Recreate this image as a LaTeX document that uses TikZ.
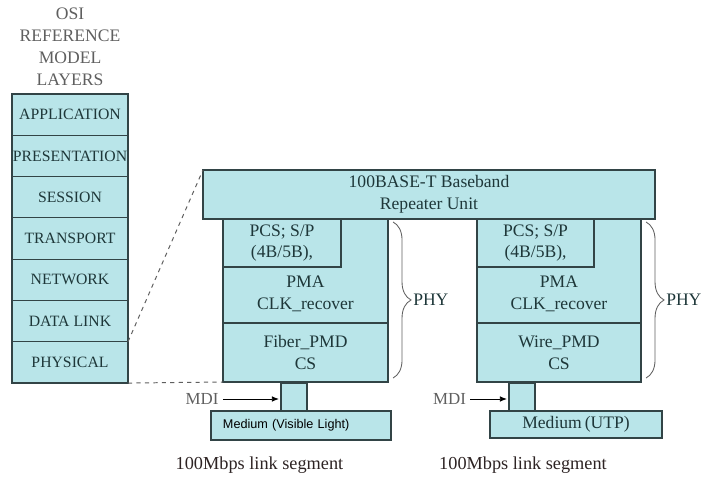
\documentclass[tikz,border=0pt]{standalone}
\usepackage{fontspec}
\setmainfont{Liberation Serif}
\setsansfont{Liberation Sans}
\usetikzlibrary{positioning, arrows.meta, decorations.pathreplacing}
\definecolor{boxfill}{RGB}{185,229,233}
\definecolor{boxline}{RGB}{50,68,70}
\definecolor{boxtext}{RGB}{30,55,57}
\definecolor{titlegray}{RGB}{95,95,95}
\definecolor{segtext}{RGB}{45,35,35}

\tikzset{
  box/.style={shape=rectangle, draw=boxline, fill=boxfill, line width=0.9pt, inner sep=0pt, outer sep=0pt, text=boxtext, align=center, font=\fontsize{12.5}{15.5}\selectfont},
  layer/.style={box, minimum width=2.9cm, minimum height=1.0325cm, font=\fontsize{11.2}{13}\selectfont},
  boxlabel/.style={text=boxtext, align=center, inner sep=0pt, font=\fontsize{12.5}{15.5}\selectfont},
  plainlabel/.style={text=segtext, inner sep=1pt, font=\fontsize{12}{14}\selectfont},
  mdiarrow/.style={-{Latex[length=5pt, width=4pt]}, line width=0.6pt, shorten >=1.5pt},
  zoomline/.style={dashed, draw=titlegray, line width=0.7pt},
  phybrace/.style={decorate, decoration={brace, amplitude=0.45cm}, draw=titlegray, line width=0.6pt}
}

\begin{document}
\begin{tikzpicture}[x=0.025cm, y=-0.025cm]
	\useasboundingbox (0,0) rectangle (715,477);
	% OSI stack on the left
	\node[align=center, text=titlegray, font=\fontsize{12.5}{15.6}\selectfont] (osititle) at (70,47) {OSI\\REFERENCE\\MODEL\\LAYERS};
	\node[layer] (app) at (70,114.6) {APPLICATION};
	\node[layer] (pres) at (70,155.9) {PRESENTATION};
	\node[layer] (sess) at (70,197.2) {SESSION};
	\node[layer] (trans) at (70,238.5) {TRANSPORT};
	\node[layer] (net) at (70,279.8) {NETWORK};
	\node[layer] (dlink) at (70,321.1) {DATA LINK};
	\node[layer] (phys) at (70,362.4) {PHYSICAL};

	% Repeater unit
	\node[box, minimum width=11.3cm, minimum height=1.225cm] (rep) at (429,194.5) {100BASE-T Baseband\\Repeater Unit};

	% left PHY
	\node[box, minimum width=4.125cm, minimum height=2.6cm] (lupper) at (305.5,271) {};
	\node[box, minimum width=2.95cm, minimum height=1.2cm] (lpcs) at (282,243) {PCS; S/P\\(4B/5B),};
	\node[boxlabel] (lpma) at (305.5,294) {PMA\\CLK\_recover};
	\node[box, minimum width=4.125cm, minimum height=1.475cm] (lfiber) at (305.5,352.5) {Fiber\_PMD\\CS};

	% right PHY
	\node[box, minimum width=4.1cm, minimum height=2.6cm] (rupper) at (559,271) {};
	\node[box, minimum width=2.925cm, minimum height=1.2cm] (rpcs) at (535.5,243) {PCS; S/P\\(4B/5B),};
	\node[boxlabel] (rpma) at (559,294) {PMA\\CLK\_recover};
	\node[box, minimum width=4.1cm, minimum height=1.475cm] (rwire) at (559,352.5) {Wire\_PMD\\CS};

	% zoom lines
	\draw[zoomline] (dlink.south east) -- (rep.north west);
	\draw[zoomline] (phys.south east) -- (lfiber.south west);

	% braces
	\draw[phybrace] ([shift={(0.125cm,-0.075cm)}]lupper.north east) -- ([shift={(0.125cm,0.1cm)}]lfiber.south east) node[midway, right=0.46cm, plainlabel, text=boxtext, font=\fontsize{12.5}{14}\selectfont] (lphy) {PHY};
	\draw[phybrace] ([shift={(0.125cm,-0.075cm)}]rupper.north east) -- ([shift={(0.125cm,0.1cm)}]rwire.south east) node[midway, right=0.46cm, plainlabel, text=boxtext, font=\fontsize{12.5}{14}\selectfont] (rphy) {PHY};

	% MDI and media
	\node[box, minimum width=0.65cm, minimum height=0.7cm] (lmdi) at (294,397) {};
	\node[box, minimum width=4.5cm, minimum height=0.725cm, text width=3.9cm, inner xsep=0.3cm, align=left, text=black, font=\sffamily\fontsize{9}{10}\selectfont] (lmedium) at (301,425.5) {Medium (Visible Light)};
	\node[plainlabel, text=titlegray] (lmditext) at (202,399) {MDI};
	\draw[mdiarrow] ([xshift=2pt]lmditext.east) -- (lmditext.east -| lmdi.west);

	\node[box, minimum width=0.65cm, minimum height=0.7cm] (rmdi) at (522,397) {};
	\node[box, minimum width=4.3cm, minimum height=0.675cm] (rmedium) at (576,424.5) {Medium\,(UTP)};
	\node[plainlabel, text=titlegray] (rmditext) at (449.5,399) {MDI};
	\draw[mdiarrow] ([xshift=2pt]rmditext.east) -- (rmditext.east -| rmdi.west);

	% segment labels
	\node[plainlabel, font=\fontsize{13}{15}\selectfont] (lseg) at (259.5,465) {100Mbps link segment};
	\node[plainlabel, font=\fontsize{13}{15}\selectfont] (rseg) at (523,465) {100Mbps link segment};
\end{tikzpicture}
\end{document}
